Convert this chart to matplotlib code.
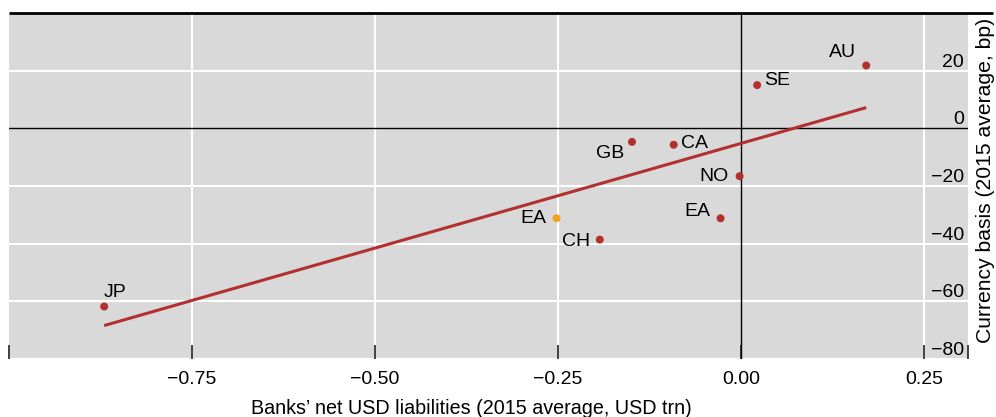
import matplotlib
matplotlib.use("Agg")
import matplotlib.pyplot as plt
import numpy as np

plt.rcParams['font.family'] = ['Liberation Sans', 'DejaVu Sans']

# Data
countries = ["AU", "SE", "GB", "CA", "NO", "EA", "EA", "CH", "JP"]
net_usd_liab = [0.171, 0.022, -0.149, -0.092, -0.002, -0.028, -0.252, -0.193, -0.870]
currency_basis = [21.8, 15.0, -4.7, -5.7, -16.6, -31.2, -31.2, -38.6, -61.8]
highlight = [False, False, False, False, False, False, True, False, False]
fit_x = [-0.870, 0.171]
fit_y = [-68.4, 7.2]

x_ticks = [-0.75, -0.50, -0.25, 0.00, 0.25]
x_ticklabels = ["\u22120.75", "\u22120.50", "\u22120.25", "0.00", "0.25"]
y_ticks = [20, 0, -20, -40, -60, -80]
y_ticklabels = ["20", "0", "\u221220", "\u221240", "\u221260", "\u221280"]

# label offsets (pixels) and alignment
label_off = [(-10, 13), (7, 5), (-8, -12), (7, 1), (-11, 0), (-10, 7), (-10, 0), (-10, -2), (0, 14)]
label_ha = ["right", "left", "right", "left", "right", "right", "right", "right", "left"]

RED = "#b2302e"
ORANGE = "#f0a31e"
GRAY = "#d9d9d9"

fig = plt.figure(figsize=(9.96, 4.17), dpi=100)
W, H = 996, 417
ax = fig.add_axes([9 / W, (H - 359) / H, (968 - 9) / W, (359 - 13) / H])
ax.set_facecolor(GRAY)
ax.set_xlim(-1.0, 0.31)
ax.set_ylim(-80, 40)

for s in ax.spines.values():
    s.set_visible(False)

# gridlines
for xv in x_ticks:
    if xv != 0:
        ax.axvline(xv, color="white", lw=1.5, zorder=1)
for yv in y_ticks:
    if yv != 0:
        ax.axhline(yv, color="white", lw=1.5, zorder=1)
ax.axhline(0, color="black", lw=1.0, zorder=2)
ax.axvline(0, color="black", lw=1.0, zorder=2)

# top black rule
ax.plot([0, (993 - 9) / 959], [1, 1], transform=ax.transAxes, color="black",
        lw=2.0, clip_on=False, zorder=5, solid_capstyle="butt")

# regression line
ax.plot(fit_x, fit_y, color=RED, lw=2.2, zorder=3, solid_capstyle="butt")

# points
colors = [ORANGE if h else RED for h in highlight]
ax.scatter(net_usd_liab, currency_basis, s=33, c=colors, zorder=4, linewidths=0)

for name, xv, yv, off, ha in zip(countries, net_usd_liab, currency_basis, label_off, label_ha):
    ax.annotate(name, (xv, yv), xytext=off, textcoords="offset pixels",
                ha=ha, va="center", fontsize=14, color="black", zorder=6)

# x ticks
ax.set_xticks(x_ticks)
ax.set_xticklabels(x_ticklabels, fontsize=14)
ax.set_xticks([-1.0, 0.31], minor=True)
ax.tick_params(axis="x", which="both", direction="in", length=10, width=1.2,
               color="#222222", pad=9, top=False, bottom=True)
ax.tick_params(axis="x", which="minor", labelbottom=False)

# y ticks on right, inside, above gridlines
ax.set_yticks(y_ticks)
ax.set_yticklabels(y_ticklabels)
ax.yaxis.tick_right()
ax.tick_params(axis="y", which="both", length=0, pad=-3, labelsize=14,
               left=False, right=True, labelleft=False, labelright=True)
for t in ax.yaxis.get_major_ticks():
    t.label2.set_horizontalalignment("right")
    t.label2.set_verticalalignment("bottom")

fig.text(471 / W, 1 - 408 / H, "Banks\u2019 net USD liabilities (2015 average, USD trn)",
         ha="center", va="center", fontsize=14.2)
fig.text(985 / W, 1 - 180 / H, "Currency basis (2015 average, bp)",
         ha="center", va="center", rotation=90, fontsize=15.2)

fig.savefig("out.png", dpi=100)
